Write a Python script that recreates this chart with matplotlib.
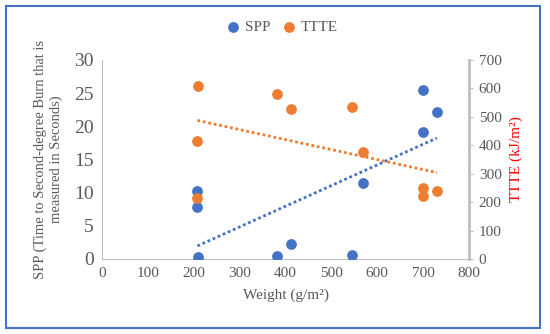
import numpy as np
import matplotlib
matplotlib.use('Agg')
import matplotlib.pyplot as plt
from matplotlib.patches import Rectangle

# weights of the samples (g/m2)
weight = [208, 208, 210, 382, 413, 544, 569, 700, 700, 730]
spp = [10.3, 7.8, 0.3, 0.5, 2.3, 0.6, 11.5, 25.5, 19.2, 22.2]
ttte = [415, 214, 608, 580, 527, 535, 376, 250, 222, 239]

blue = '#4472C4'
orange = '#ED7D31'
grey = '#595959'

plt.rcParams['font.family'] = ['Liberation Serif', 'DejaVu Serif']

fig = plt.figure(figsize=(5.5, 3.34), dpi=100)
ax = fig.add_axes([0.1855, 0.2246, 0.8527 - 0.1855, 0.8204 - 0.2246])
ax2 = ax.twinx()

ax.scatter(weight, spp, s=45, color=blue, zorder=3, label='SPP')
ax2.scatter(weight, ttte, s=45, color=orange, zorder=3, label='TTTE')

# linear trendlines over the data range
xs = np.array([min(weight), max(weight)])
a, b = np.polyfit(weight, spp, 1)
ax.plot(xs, a * xs + b, color=blue, ls=(0, (1, 1)), lw=2)
a, b = np.polyfit(weight, ttte, 1)
ax2.plot(xs, a * xs + b, color=orange, ls=(0, (1, 1)), lw=2)

ax.set_xlim(0, 800)
ax.set_ylim(0, 30)
ax2.set_ylim(0, 700)
ax.set_xticks(range(0, 801, 100))
ax.set_yticks(range(0, 31, 5))
ax2.set_yticks(range(0, 701, 100))

ax.spines['top'].set_visible(False)
ax2.spines['top'].set_visible(False)
ax.spines['right'].set_visible(False)
ax2.spines['left'].set_visible(False)
ax2.spines['bottom'].set_visible(False)
ax.spines['left'].set_color('#BFBFBF')
ax.spines['bottom'].set_color('#BFBFBF')
ax2.spines['right'].set_color('#BFBFBF')
ax2.spines['right'].set_linewidth(2)

ax.tick_params(axis='both', length=0, labelsize=11, colors=grey, pad=6)
ax.tick_params(axis='y', labelsize=14)
ax2.tick_params(axis='y', length=3, labelsize=11, colors=grey, pad=4)
ax2.tick_params(axis='y', color='#BFBFBF')

ax.set_xlabel('Weight (g/m²)', fontsize=11, color=grey, labelpad=6)
ax.set_ylabel('SPP (Time to Second-degree Burn that is\nmeasured in Seconds)',
              fontsize=10.5, color=grey, labelpad=8)
ax2.set_ylabel('TTTE (kJ/m²)', fontsize=11, color='red', labelpad=6)

h1, l1 = ax.get_legend_handles_labels()
h2, l2 = ax2.get_legend_handles_labels()
fig.legend(h1 + h2, l1 + l2, loc='center', bbox_to_anchor=(0.505, 0.918), ncol=2,
           frameon=False, fontsize=11, handletextpad=-0.2, columnspacing=0.2,
           markerscale=1.0, labelcolor=grey)

# outer border
fig.patches.append(Rectangle((0.01, 0.018), 0.972, 0.965, transform=fig.transFigure,
                             fill=False, edgecolor=blue, lw=1.5))

fig.savefig('out.png', dpi=100)
